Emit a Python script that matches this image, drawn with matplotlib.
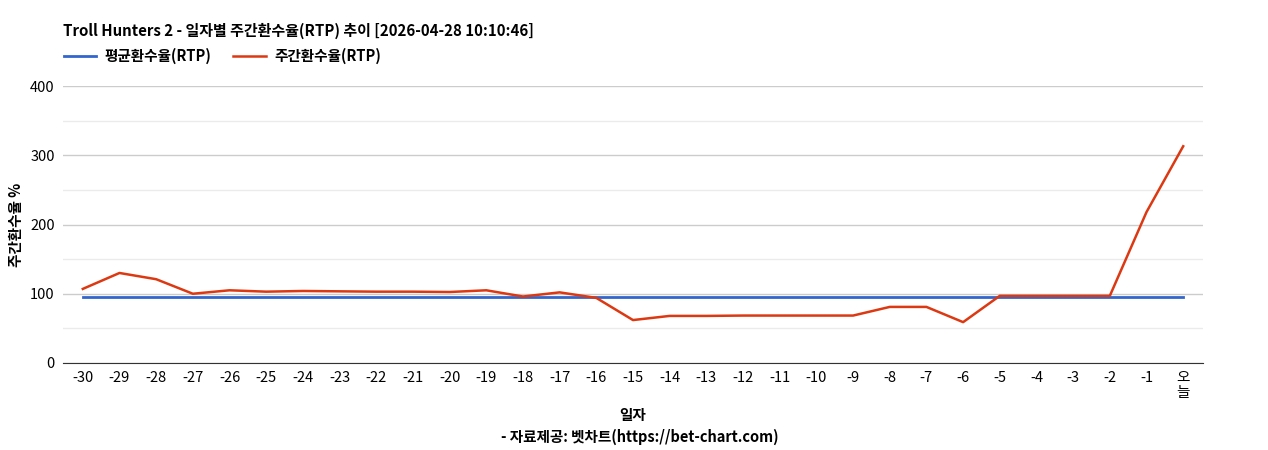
import matplotlib
matplotlib.use("Agg")
import matplotlib.pyplot as plt

plt.rcParams['font.family'] = ['Noto Sans CJK KR', 'DejaVu Sans']

labels = [str(i) for i in range(-30, 0)] + ["오\n늘"]
weekly = [107, 130, 121, 100, 105, 103, 104, 103.5, 103, 103, 102.5, 105, 96, 102, 94,
          62, 68, 68, 68.5, 68.5, 68.5, 68.5, 81, 81, 59, 97, 97, 97, 97, 218, 313]
avg = [96] * len(labels)

fig = plt.figure(figsize=(12.68, 4.5), dpi=100)
ax = fig.add_axes([63/1268, 1-363/450, (1203-63)/1268, (363-86)/450])
x = list(range(len(labels)))
ax.plot(x, avg, color='#3366cc', lw=2, label='평균환수율(RTP)')
ax.plot(x, weekly, color='#dc3912', lw=1.8, label='주간환수율(RTP)')
ax.set_xlim(-0.54, 30.54)
ax.set_ylim(0, 400)
ax.set_yticks([0, 100, 200, 300, 400])
ax.set_yticks([50, 150, 250, 350], minor=True)
ax.grid(axis='y', which='major', color='#cccccc', lw=1)
ax.grid(axis='y', which='minor', color='#ebebeb', lw=1)
ax.set_axisbelow(True)
ax.set_xticks(x)
ax.set_xticklabels(labels, fontsize=10.5, va='top', linespacing=1.1)
ax.tick_params(axis='x', length=0, pad=6)
ax.tick_params(axis='y', which='both', length=0, labelsize=10.5, pad=6)
for s in ['top', 'right', 'left']:
    ax.spines[s].set_visible(False)
ax.spines['bottom'].set_color('#333333')
ax.set_ylabel('주간환수율 %', fontsize=10.5, fontweight='bold', labelpad=4)
fig.text(633/1268, 1-415/450, '일자', ha='center', va='center', fontsize=10.5, fontweight='bold')
fig.text(640/1268, 1-437/450, '- 자료제공: 벳차트(https://bet-chart.com)', ha='center', va='center', fontsize=10.5, fontweight='bold')
fig.text(63/1268, 1-31/450, 'Troll Hunters 2 - 일자별 주간환수율(RTP) 추이 [2026-04-28 10:10:46]', ha='left', va='center', fontsize=10.8, fontweight='bold')
fig.legend(loc='upper left', bbox_to_anchor=(58/1268, 1-42/450), ncol=2, frameon=False,
           prop={'size': 10.5, 'weight': 'bold'}, handlelength=2.2, handletextpad=0.6,
           columnspacing=1.5, borderaxespad=0)
fig.savefig('out.png', dpi=100)
